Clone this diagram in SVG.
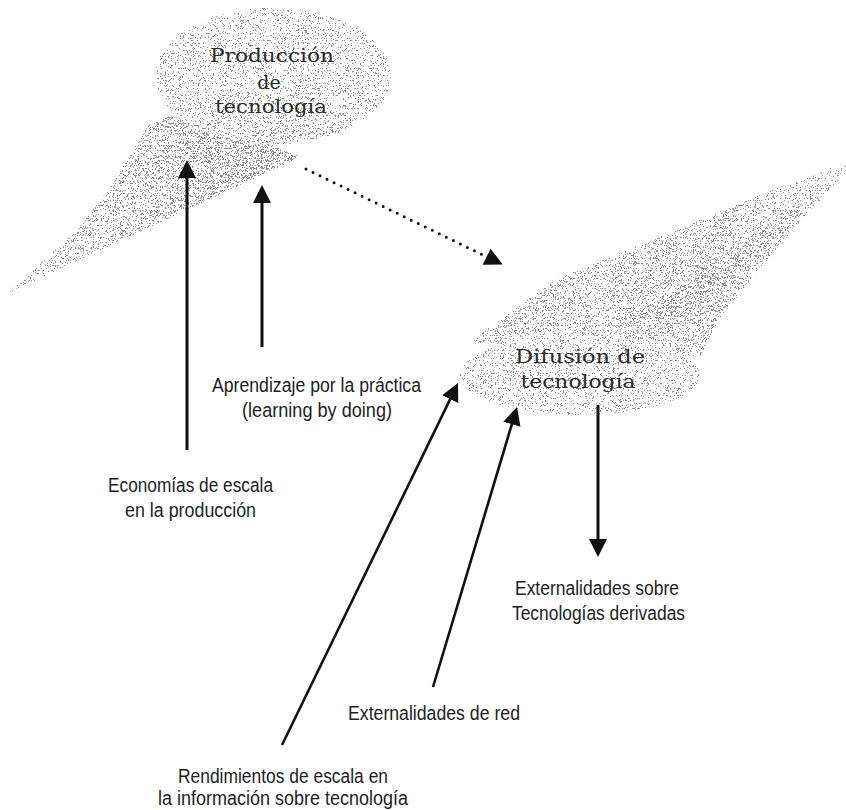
<svg xmlns="http://www.w3.org/2000/svg" width="846" height="810" viewBox="0 0 846 810">
<style>
  .serif { font-family: "DejaVu Serif", "Liberation Serif", serif; font-size: 19px; fill: #2a2a2a; text-anchor: middle; }
  .sans { font-family: "Liberation Sans", Arial, sans-serif; font-size: 20px; fill: #1e1e1e; text-anchor: middle; }
  .arrow { stroke: #111; stroke-width: 3; fill: none; marker-end: url(#head); }
  .diag { stroke: #111; stroke-width: 2.6; fill: none; marker-end: url(#head); }
  .dotted { stroke: #111; stroke-width: 3; fill: none; stroke-dasharray: 0 7.8; stroke-linecap: round; marker-end: url(#headDot); }
</style>
<defs>
  <marker id="head" viewBox="0 0 18 18" markerUnits="userSpaceOnUse" markerWidth="18" markerHeight="18" refX="4" refY="9" orient="auto">
    <path d="M0,0 L18,9 L0,18 Z" fill="#111"/>
  </marker>
  <marker id="headDot" viewBox="-6 0 24 18" markerUnits="userSpaceOnUse" markerWidth="24" markerHeight="18" refX="-4" refY="9" orient="auto">
    <path d="M0,0 L18,9 L0,18 Z" fill="#111"/>
  </marker>
  <filter id="stipple" filterUnits="userSpaceOnUse" x="0" y="0" width="846" height="810" color-interpolation-filters="sRGB">
    <feColorMatrix in="SourceGraphic" type="matrix" values="0 0 0 0 0  0 0 0 0 0  0 0 0 0 0  -1 0 0 0 1" result="dk"/>
    <feComposite in="dk" in2="SourceAlpha" operator="in" result="d"/>
    <feTurbulence type="fractalNoise" baseFrequency="2.4" numOctaves="1" seed="11" result="t"/>
    <feColorMatrix in="t" type="matrix" values="0 0 0 0 0  0 0 0 0 0  0 0 0 0 0  3 0 0 0 -1" result="n"/>
    <feComposite in="d" in2="n" operator="arithmetic" k1="0" k2="8" k3="-8" k4="0" result="dots"/>
    <feColorMatrix in="dots" type="matrix" values="0 0 0 0 0.55  0 0 0 0 0.55  0 0 0 0 0.55  0 0 0 1 0"/>
  </filter>
  <linearGradient id="gLeft" gradientUnits="userSpaceOnUse" x1="8" y1="293" x2="265" y2="150">
    <stop offset="0" stop-color="#d6d6d6"/>
    <stop offset="0.6" stop-color="#b8b8b8"/>
    <stop offset="1" stop-color="#989898"/>
  </linearGradient>
  <linearGradient id="gEll1" gradientUnits="userSpaceOnUse" x1="0" y1="8" x2="0" y2="144">
    <stop offset="0" stop-color="#d8d8d8"/>
    <stop offset="0.75" stop-color="#d2d2d2"/>
    <stop offset="1" stop-color="#bababa"/>
  </linearGradient>
  <linearGradient id="gRight" gradientUnits="userSpaceOnUse" x1="846" y1="167" x2="560" y2="330">
    <stop offset="0" stop-color="#dadada"/>
    <stop offset="0.55" stop-color="#b8b8b8"/>
    <stop offset="1" stop-color="#c2c2c2"/>
  </linearGradient>
  <linearGradient id="gBand" gradientUnits="userSpaceOnUse" x1="846" y1="167" x2="600" y2="320">
    <stop offset="0" stop-color="#d0d0d0"/>
    <stop offset="0.6" stop-color="#9c9c9c"/>
    <stop offset="1" stop-color="#aaaaaa"/>
  </linearGradient>
</defs>
<rect x="0" y="0" width="846" height="810" fill="#ffffff"/>

<g id="node-produccion">
  <g filter="url(#stipple)">
    <path d="M8,293 L40,263 L75,233 L112,185 L148,126 L170,116 L230,128 L300,157 Z" fill="url(#gLeft)"/>
    <ellipse cx="273" cy="76" rx="118" ry="68" fill="url(#gEll1)"/>
  </g>
  <text class="serif" x="272" y="62" textLength="124" lengthAdjust="spacingAndGlyphs">Producción</text>
  <text class="serif" x="269" y="89">de</text>
  <text class="serif" x="271" y="113" textLength="112" lengthAdjust="spacingAndGlyphs">tecnología</text>
</g>

<g id="node-difusion">
  <g filter="url(#stipple)">
    <path d="M846,162 L846,172 L800,222 L760,268 L720,318 L700,356 L470,342 L520,305 L560,278 L653,240 L760,195 Z" fill="url(#gRight)"/>
    <path d="M846,165 L780,215 L720,265 L650,305 L610,322 L680,318 L730,280 L790,225 Z" fill="url(#gBand)"/>
    <ellipse cx="580" cy="375" rx="120" ry="40" fill="#d4d4d4"/>
  </g>
  <text class="serif" x="580" y="363" textLength="130" lengthAdjust="spacingAndGlyphs">Difusión de</text>
  <text class="serif" x="578" y="388" textLength="115" lengthAdjust="spacingAndGlyphs">tecnología</text>
</g>

<g id="connectors">
  <line class="arrow" x1="187" y1="450" x2="187" y2="174"/>
  <line class="arrow" x1="262" y1="347" x2="262" y2="199"/>
  <line class="dotted" x1="306" y1="169" x2="483" y2="255"/>
  <line class="diag" x1="282" y1="745" x2="451.9" y2="395.6"/>
  <line class="diag" x1="433" y1="687" x2="513" y2="420.4"/>
  <line class="arrow" x1="598" y1="405" x2="598" y2="543"/>
</g>

<g id="label-aprendizaje">
  <text class="sans" x="316.5" y="392" textLength="209" lengthAdjust="spacingAndGlyphs">Aprendizaje por la práctica</text>
  <text class="sans" x="317" y="417" textLength="150" lengthAdjust="spacingAndGlyphs">(learning by doing)</text>
</g>
<g id="label-economias">
  <text class="sans" x="190.5" y="492" textLength="165" lengthAdjust="spacingAndGlyphs">Economías de escala</text>
  <text class="sans" x="190.5" y="517" textLength="131" lengthAdjust="spacingAndGlyphs">en la producción</text>
</g>
<g id="label-externalidades-sobre">
  <text class="sans" x="597" y="595" textLength="164" lengthAdjust="spacingAndGlyphs">Externalidades sobre</text>
  <text class="sans" x="598.5" y="620" textLength="173" lengthAdjust="spacingAndGlyphs">Tecnologías derivadas</text>
</g>
<g id="label-externalidades-red">
  <text class="sans" x="434" y="720" textLength="172" lengthAdjust="spacingAndGlyphs">Externalidades de red</text>
</g>
<g id="label-rendimientos">
  <text class="sans" x="283" y="783" textLength="210" lengthAdjust="spacingAndGlyphs">Rendimientos de escala en</text>
  <text class="sans" x="283" y="805" textLength="250" lengthAdjust="spacingAndGlyphs">la información sobre tecnología</text>
</g>
</svg>
